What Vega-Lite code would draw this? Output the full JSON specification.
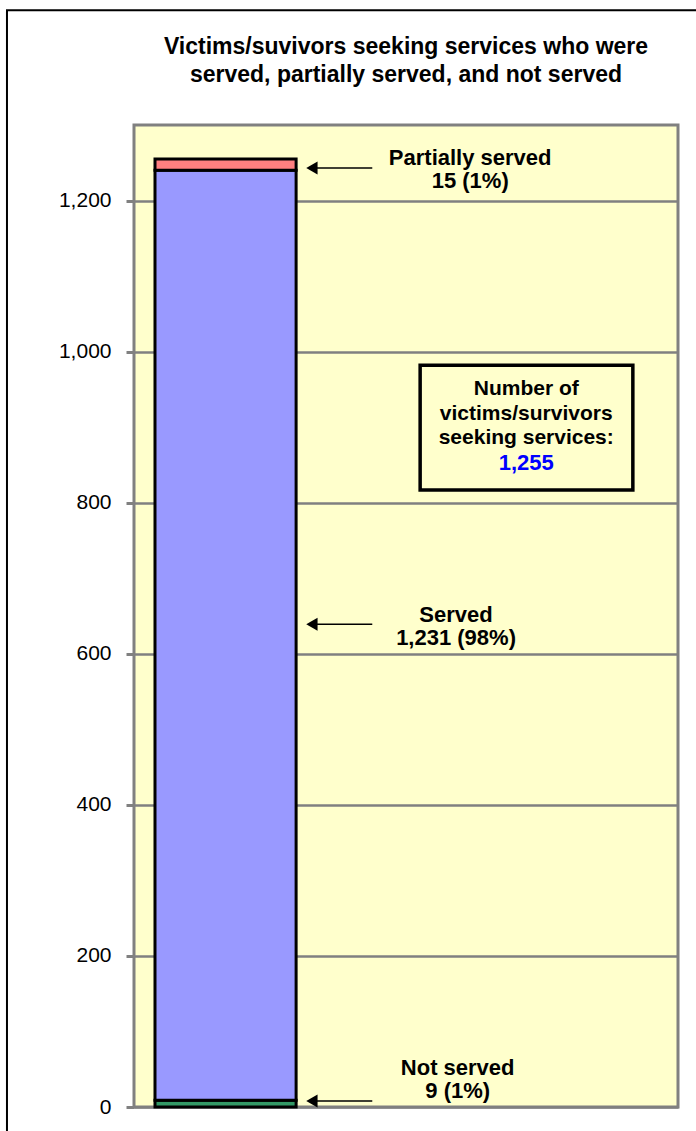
{
  "$schema": "https://vega.github.io/schema/vega-lite/v6.json",
  "width": 544,
  "height": 982,
  "autosize": {"type": "none"},
  "padding": {"left": 134, "top": 125, "right": 18, "bottom": 24},
  "background": "#FFFFFF",
  "title": {
    "text": ["Victims/suvivors  seeking services who were", "served, partially served, and not served"],
    "font": "Liberation Sans",
    "fontSize": 23,
    "fontWeight": "bold",
    "color": "#000000",
    "lineHeight": 28,
    "anchor": "middle",
    "baseline": "bottom",
    "offset": -101
  },
  "config": {
    "view": {"fill": "#FFFFCC", "stroke": "#808080", "strokeWidth": 3},
    "font": "Liberation Sans"
  },
  "datasets": {
    "frame": [{"left": -23.35, "right": 110, "top": 1452, "bottom": -200}],
    "segments": [
      {"segment": "Not served", "start": 0, "end": 9},
      {"segment": "Served", "start": 9, "end": 1240},
      {"segment": "Partially served", "start": 1240, "end": 1255}
    ],
    "annotations": [
      {"segment": "Partially served", "label": ["Partially served", "15 (1%)"], "arrowAt": 1243, "labelAt": 1256, "labelX": 61.8},
      {"segment": "Served", "label": ["Served", "1,231 (98%)"], "arrowAt": 639, "labelAt": 651, "labelX": 59.2},
      {"segment": "Not served", "label": ["Not served", "9 (1%)"], "arrowAt": 8, "labelAt": 52, "labelX": 59.5}
    ],
    "box": [{"title": ["Number of", "victims/survivors", "seeking services:"], "total": "1,255"}]
  },
  "layer": [
    {
      "data": {"name": "frame"},
      "mark": {"type": "rect", "fill": null, "stroke": "#000000", "strokeWidth": 2, "clip": false},
      "encoding": {
        "x": {"field": "left", "type": "quantitative", "scale": {"domain": [0, 100]}, "axis": null},
        "x2": {"field": "right"},
        "y": {"field": "top", "type": "quantitative"},
        "y2": {"field": "bottom"}
      }
    },
    {
      "data": {"name": "segments"},
      "mark": {"type": "rect", "stroke": "#000000", "strokeWidth": 3},
      "encoding": {
        "x": {"datum": 3.86, "type": "quantitative", "scale": {"domain": [0, 100]}, "axis": null},
        "x2": {"datum": 29.8},
        "y": {
          "field": "start",
          "type": "quantitative",
          "scale": {"domain": [0, 1300], "nice": false, "zero": true},
          "axis": {
            "title": null,
            "values": [0, 200, 400, 600, 800, 1000, 1200],
            "format": ",d",
            "domain": false,
            "grid": true,
            "gridColor": "#808080",
            "gridWidth": 2.5,
            "gridOpacity": 1,
            "tickColor": "#808080",
            "tickWidth": 3,
            "tickSize": 8,
            "labelFont": "Liberation Sans",
            "labelFontSize": 21,
            "labelColor": "#000000",
            "labelPadding": 15
          }
        },
        "y2": {"field": "end"},
        "color": {
          "field": "segment",
          "type": "nominal",
          "scale": {"domain": ["Not served", "Served", "Partially served"], "range": ["#339966", "#9999FF", "#FF8080"]},
          "legend": null
        }
      }
    },
    {
      "data": {"name": "annotations"},
      "mark": {"type": "rule", "stroke": "#000000", "strokeWidth": 1.5},
      "encoding": {
        "x": {"datum": 32.6, "type": "quantitative"},
        "x2": {"datum": 43.8},
        "y": {"field": "arrowAt", "type": "quantitative"}
      }
    },
    {
      "data": {"name": "annotations"},
      "mark": {"type": "point", "shape": "triangle-left", "filled": true, "color": "#000000", "size": 170, "opacity": 1},
      "encoding": {
        "x": {"datum": 32.7, "type": "quantitative"},
        "y": {"field": "arrowAt", "type": "quantitative"}
      }
    },
    {
      "data": {"name": "annotations"},
      "mark": {"type": "text", "font": "Liberation Sans", "fontSize": 22, "fontWeight": "bold", "color": "#000000", "align": "center", "baseline": "middle", "lineHeight": 23},
      "encoding": {
        "x": {"field": "labelX", "type": "quantitative"},
        "y": {"field": "labelAt", "type": "quantitative"},
        "text": {"field": "label"}
      }
    },
    {
      "data": {"name": "box"},
      "mark": {"type": "rect", "fill": "#FFFFCC", "stroke": "#000000", "strokeWidth": 3.5},
      "encoding": {
        "x": {"datum": 52.6, "type": "quantitative"},
        "x2": {"datum": 91.7},
        "y": {"datum": 982, "type": "quantitative"},
        "y2": {"datum": 816.8}
      }
    },
    {
      "data": {"name": "box"},
      "mark": {"type": "text", "font": "Liberation Sans", "fontSize": 21, "fontWeight": "bold", "color": "#000000", "align": "center", "baseline": "middle", "lineHeight": 24.5},
      "encoding": {
        "x": {"datum": 72.1, "type": "quantitative"},
        "y": {"datum": 950.5, "type": "quantitative"},
        "text": {"field": "title"}
      }
    },
    {
      "data": {"name": "box"},
      "mark": {"type": "text", "font": "Liberation Sans", "fontSize": 22, "fontWeight": "bold", "color": "#0000FF", "align": "center", "baseline": "middle"},
      "encoding": {
        "x": {"datum": 72.1, "type": "quantitative"},
        "y": {"datum": 852.5, "type": "quantitative"},
        "text": {"field": "total"}
      }
    }
  ]
}
